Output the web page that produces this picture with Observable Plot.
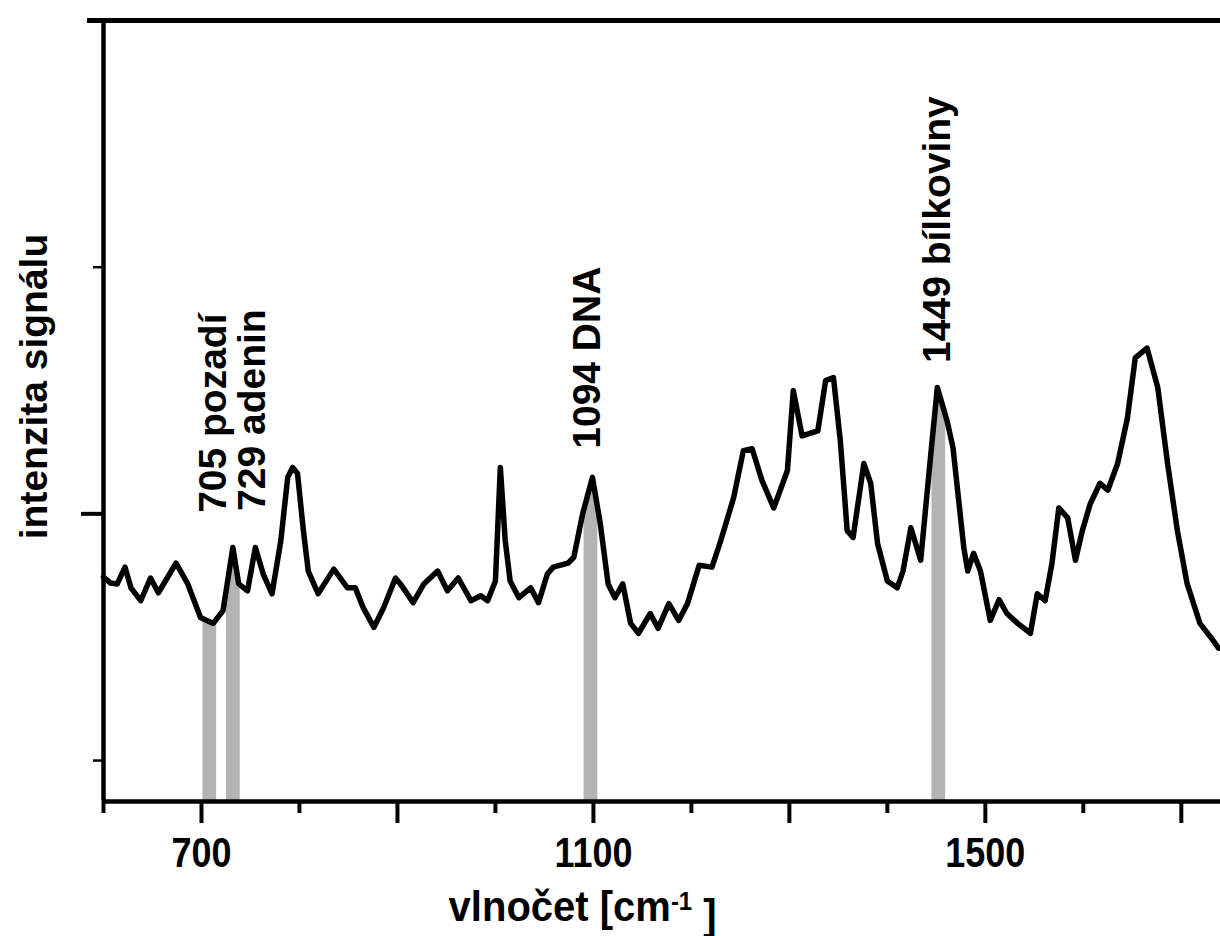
<!DOCTYPE html>
<html><head><meta charset="utf-8">
<script src="https://cdn.jsdelivr.net/npm/d3@7"></script>
<script src="https://cdn.jsdelivr.net/npm/@observablehq/plot@0.6"></script>
<style>
html,body{margin:0;padding:0;background:#fff;}
</style>
</head><body><div id="chart"></div>
<script>
// Raman spectrum
const wavenumber = [600,607,614,622,628,638,648,656,665,674,686,699,712,722,732,738,747,755,763,772,781,788,793,798,804,809,819,835,849,857,865,876,886,898,903,916,927,941,951,962,975,985,992,1000,1005,1010,1015,1024,1036,1044,1053,1059,1074,1080,1089,1099,1107,1115,1122,1130,1138,1146,1158,1166,1177,1187,1196,1208,1221,1230,1243,1253,1262,1272,1284,1298,1304,1313,1329,1337,1345,1352,1359,1365,1376,1383,1390,1400,1410,1416,1424,1434,1444,1451,1461,1467,1478,1482,1488,1495,1505,1514,1522,1533,1546,1553,1561,1568,1575,1584,1592,1599,1607,1617,1625,1635,1645,1653,1665,1676,1686,1696,1706,1719,1730,1738];
const intensity = [186,180,179,196,175,162,185,170,185,200,179,145,139,152,216,179,172,216,189,169,223,287,297,291,233,192,169,194,175,175,155,135,155,185,179,160,179,192,172,185,162,167,162,182,297,223,182,165,175,160,189,196,200,206,250,287,240,179,165,179,139,129,149,134,159,142,159,198,196,223,266,314,316,284,256,294,375,329,334,385,388,324,233,226,301,281,220,182,175,192,236,203,307,378,344,317,216,192,210,192,142,163,149,139,129,169,162,200,256,246,203,233,260,281,274,301,347,408,418,378,301,233,179,139,125,114];

// marked bands
const bandPeaks = [705, 729, 1094, 1449];
const bandLabels = ["705 pozadí", "729 adenin", "1094 DNA", "1449 bílkoviny"];
const labelAt = [712, 752, 1094, 1451];
const labelBase = [251, 253, 316, 403];

// axes
const xDomain = [600, 1740];
const yDomain = [-40.5, 750];
const majorTicks = [700, 900, 1100, 1300, 1500, 1700];
const minorTicks = [600, 800, 1000, 1200, 1400, 1600];
const tickLabels = {700: "700", 1100: "1100", 1500: "1500"};
const yTicksLong = [250];
const yTicksShort = [0, 500];
const xTitle = "vlnočet [cm-1]";
const yTitle = "intenzita signálu";

const spectrum = wavenumber.map((w, i) => ({wn: w, I: intensity[i]}));

function interp(w) {
  for (let i = 1; i < wavenumber.length; i++) {
    if (wavenumber[i] >= w) {
      const t = (w - wavenumber[i-1]) / (wavenumber[i] - wavenumber[i-1]);
      return intensity[i-1] + t * (intensity[i] - intensity[i-1]);
    }
  }
  return intensity[intensity.length - 1];
}
const bandPts = [];
bandPeaks.forEach((p, k) => {
  const lo = p - 3.5, hi = p + 10.5;
  const xs = [lo, ...wavenumber.filter(w => w > lo && w < hi), hi];
  xs.forEach(w => bandPts.push({band: k, wn: w, I: interp(w)}));
});

const font = "'Liberation Sans', Arial, sans-serif";

const chart = Plot.plot({
  width: 1220,
  height: 936,
  marginLeft: 103,
  marginRight: 0,
  marginTop: 20,
  marginBottom: 136,
  style: {fontFamily: font, background: "white", overflow: "visible"},
  x: {domain: xDomain},
  y: {domain: yDomain},
  marks: [
    Plot.areaY(bandPts, {x: "wn", y1: yDomain[0], y2: "I", z: "band", fill: "#b3b3b3", curve: "linear"}),
    Plot.line(spectrum, {x: "wn", y: "I", stroke: "black", strokeWidth: 5.5, strokeLinejoin: "round", strokeLinecap: "round", curve: "linear"}),
    Plot.ruleX([xDomain[0]], {strokeWidth: 4.5, stroke: "black"}),
    Plot.ruleY([yDomain[0]], {strokeWidth: 4.5, stroke: "black", dy: 1}),
    Plot.ruleY([yDomain[1]], {strokeWidth: 5, stroke: "black"}),
    Plot.axisY({ticks: yTicksLong, tickSize: 22, strokeWidth: 4, tickFormat: () => "", label: null}),
    Plot.axisY({ticks: yTicksShort, tickSize: 10, strokeWidth: 2.5, tickFormat: () => "", label: null}),
    Plot.axisY({ticks: [yDomain[1]], tickSize: 16, strokeWidth: 5, tickFormat: () => "", label: null}),
    Plot.axisX({ticks: minorTicks, tickSize: 13, strokeWidth: 4, tickFormat: () => "", label: null}),
    Plot.axisX({ticks: majorTicks, tickSize: 23, tickPadding: 12, strokeWidth: 4, tickFormat: d => tickLabels[d] ?? "",
      label: null, fontSize: 36, fontWeight: "bold", fill: "black"}),
    Plot.text(bandLabels, {x: labelAt, y: labelBase, text: d => d, rotate: -90, textAnchor: "start", lineAnchor: "middle",
      fontSize: 39, fontWeight: "bold", fill: "black"}),
    Plot.text([xTitle], {x: 1089, frameAnchor: "bottom", dy: 122, lineAnchor: "bottom", textAnchor: "middle",
      fontSize: 40, fontWeight: "bold", fill: "black"}),
    Plot.text([yTitle], {frameAnchor: "left", rotate: -90, dx: -69, dy: -24, lineAnchor: "middle", textAnchor: "middle",
      fontSize: 39, fontWeight: "bold", fill: "black"})
  ]
});
document.getElementById("chart").appendChild(chart);

// stretch text vertically (the original uses tall, narrow lettering)
function stretch(el, s, pivotAtBottom) {
  const bb = el.getBBox();
  const py = pivotAtBottom ? bb.y + bb.height : bb.y;
  const prev = el.getAttribute("transform") || "";
  el.setAttribute("transform", `${prev} translate(0,${py}) scale(1,${s}) translate(0,${-py})`);
}
const tickTexts = Object.values(tickLabels);
d3.select(chart).selectAll("text").each(function() {
  if (tickTexts.includes(this.textContent)) stretch(this, 1.18, false);
});

// superscript in x title
d3.select(chart).selectAll("text").filter(function() { return this.textContent === xTitle; })
  .each(function() {
    const t = d3.select(this);
    t.text(null);
    t.append("tspan").text("vlnočet [cm");
    t.append("tspan").attr("dy", "-0.42em").attr("font-size", "60%").text("-1");
    t.append("tspan").attr("dy", "0.42em").text(" ]");
    stretch(this, 1.08, true);
  });
</script>
</body></html>
